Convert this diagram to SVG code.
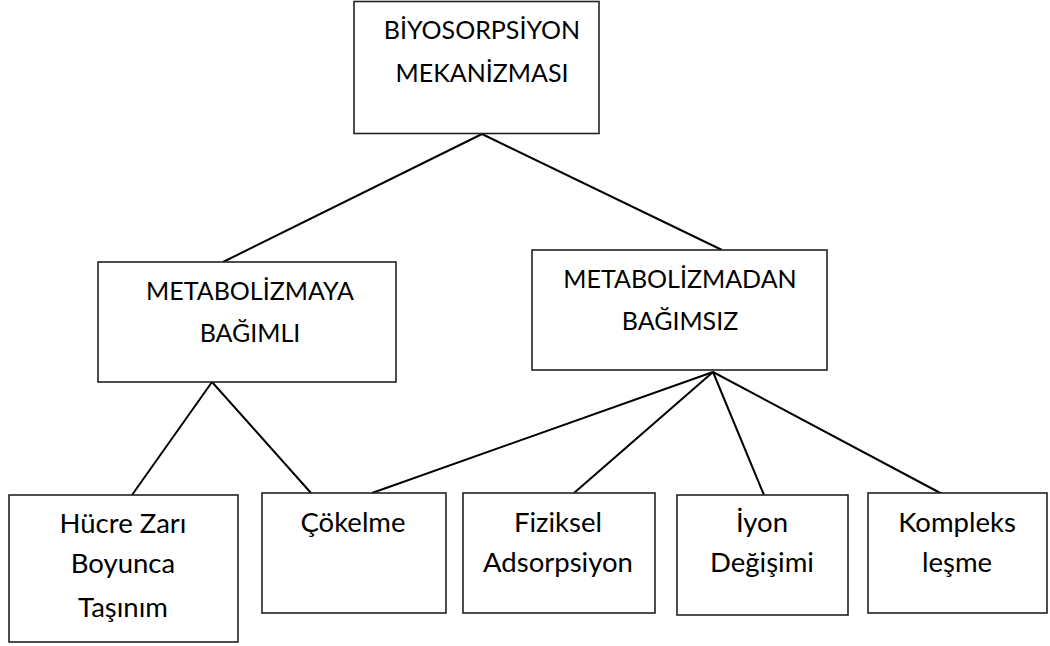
<svg xmlns="http://www.w3.org/2000/svg" width="1050" height="646" viewBox="0 0 1050 646">
<style>
.box{fill:#fff;stroke:#222;stroke-width:1.6}
.t{font-family:Lato,"Liberation Sans",sans-serif;fill:#000;text-anchor:middle}
.big{font-size:25px}
.sm{font-size:27.5px}
.c line{stroke:#000;stroke-width:2}
</style>
<rect width="1050" height="646" fill="#fff"/>
<g class="c" id="connectors">
<line x1="482" y1="134" x2="223" y2="262"/>
<line x1="482" y1="134" x2="722" y2="250"/>
<line x1="212" y1="382" x2="132" y2="495"/>
<line x1="212" y1="382" x2="311" y2="493"/>
<line x1="713" y1="372" x2="372" y2="493"/>
<line x1="713" y1="372" x2="574" y2="493"/>
<line x1="713" y1="372" x2="764" y2="495"/>
<line x1="713" y1="372" x2="944" y2="495"/>
</g>
<g id="root">
<rect class="box" x="354" y="1.5" width="245" height="132"/>
<text class="t big" x="482" y="39">BİYOSORPSİYON</text>
<text class="t big" x="482" y="82">MEKANİZMASI</text>
</g>
<g id="dep">
<rect class="box" x="98" y="262" width="298" height="120"/>
<text class="t big" x="250" y="300">METABOLİZMAYA</text>
<text class="t big" x="250" y="342">BAĞIMLI</text>
</g>
<g id="indep">
<rect class="box" x="532" y="250" width="295" height="120"/>
<text class="t big" x="680" y="288">METABOLİZMADAN</text>
<text class="t big" x="680" y="330">BAĞIMSIZ</text>
</g>
<g id="hucre">
<rect class="box" x="9" y="495" width="229" height="147"/>
<text class="t sm" x="123" y="533">Hücre Zarı</text>
<text class="t sm" x="123" y="573">Boyunca</text>
<text class="t sm" x="123" y="617">Taşınım</text>
</g>
<g id="cokelme">
<rect class="box" x="262" y="493" width="184" height="120"/>
<text class="t sm" x="353" y="532">Çökelme</text>
</g>
<g id="fiziksel">
<rect class="box" x="463" y="493" width="192" height="120"/>
<text class="t sm" x="558" y="532">Fiziksel</text>
<text class="t sm" x="558" y="572">Adsorpsiyon</text>
</g>
<g id="iyon">
<rect class="box" x="677" y="495" width="171" height="120"/>
<text class="t sm" x="762" y="532">İyon</text>
<text class="t sm" x="762" y="572">Değişimi</text>
</g>
<g id="kompleks">
<rect class="box" x="868" y="493" width="179" height="120"/>
<text class="t sm" x="957" y="532">Kompleks</text>
<text class="t sm" x="957" y="572">leşme</text>
</g>
</svg>
